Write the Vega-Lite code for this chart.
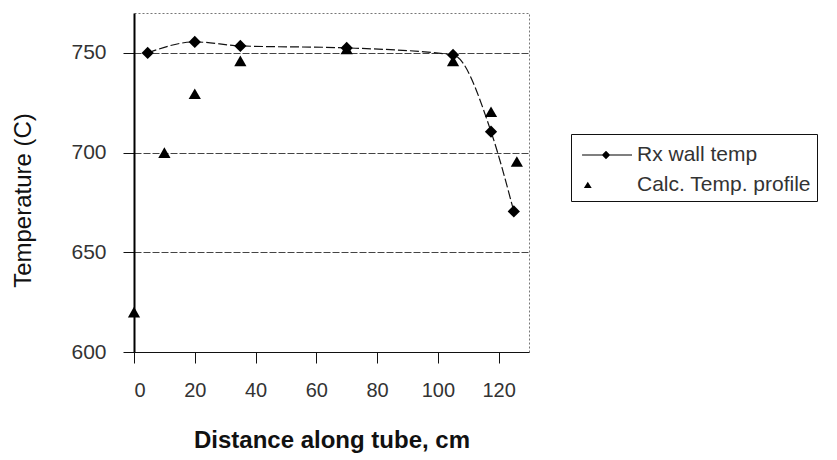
{
  "$schema": "https://vega.github.io/schema/vega-lite/v6.json",
  "width": 395,
  "height": 339,
  "autosize": {"type": "none"},
  "padding": {"left": 134, "top": 13, "right": 308, "bottom": 108},
  "background": "white",
  "config": {
    "font": "Liberation Sans",
    "view": {"stroke": "#777777", "strokeDash": [2, 2], "strokeWidth": 1}
  },
  "data": {
    "values": [
      {"x": 4.5, "temp": 750, "series": "Rx wall temp"},
      {"x": 20, "temp": 755.5, "series": "Rx wall temp"},
      {"x": 35, "temp": 753.5, "series": "Rx wall temp"},
      {"x": 70, "temp": 752.5, "series": "Rx wall temp"},
      {"x": 105, "temp": 749, "series": "Rx wall temp"},
      {"x": 117.5, "temp": 710.5, "series": "Rx wall temp"},
      {"x": 125, "temp": 670.5, "series": "Rx wall temp"},
      {"x": 0, "temp": 620, "series": "Calc. Temp. profile"},
      {"x": 10, "temp": 700, "series": "Calc. Temp. profile"},
      {"x": 20, "temp": 729.5, "series": "Calc. Temp. profile"},
      {"x": 35, "temp": 746, "series": "Calc. Temp. profile"},
      {"x": 70, "temp": 752, "series": "Calc. Temp. profile"},
      {"x": 105, "temp": 746, "series": "Calc. Temp. profile"},
      {"x": 117.5, "temp": 720.5, "series": "Calc. Temp. profile"},
      {"x": 126, "temp": 695.5, "series": "Calc. Temp. profile"}
    ]
  },
  "encoding": {
    "x": {
      "field": "x",
      "type": "quantitative",
      "scale": {"domain": [0, 130], "nice": false, "zero": false},
      "axis": {
        "title": "Distance along tube, cm",
        "values": [0, 20, 40, 60, 80, 100, 120],
        "grid": false,
        "tickSize": 11,
        "tickColor": "#111111",
        "domainColor": "#111111",
        "domainWidth": 1.2,
        "labelFontSize": 20,
        "labelColor": "#333333",
        "labelPadding": 17,
        "titleFontSize": 24,
        "titleFontWeight": "bold",
        "titleColor": "#111111",
        "titleBaseline": "alphabetic",
        "titleY": 95
      }
    },
    "y": {
      "field": "temp",
      "type": "quantitative",
      "scale": {"domain": [600, 770], "nice": false, "zero": false},
      "axis": {
        "title": "Temperature (C)",
        "values": [600, 650, 700, 750],
        "grid": true,
        "gridColor": "#444444",
        "gridDash": [7, 2],
        "gridWidth": 1,
        "tickSize": 11,
        "tickColor": "#111111",
        "domainColor": "#000000",
        "domainWidth": 2,
        "labelFontSize": 21,
        "labelColor": "#333333",
        "labelPadding": 17,
        "titleFontSize": 24,
        "titleFontWeight": "normal",
        "titleColor": "#111111",
        "titleAngle": 270,
        "titleAlign": "center",
        "titleBaseline": "middle",
        "titleX": -111,
        "titleY": 187
      }
    }
  },
  "layer": [
    {
      "transform": [{"filter": "datum.series === 'Rx wall temp'"}],
      "mark": {"type": "line", "interpolate": "monotone", "color": "#111111", "strokeWidth": 1.2, "strokeDash": [9, 3]}
    },
    {
      "mark": {"type": "point", "filled": true, "size": 150, "color": "#000000", "opacity": 1},
      "encoding": {
        "shape": {
          "field": "series",
          "type": "nominal",
          "scale": {"domain": ["Rx wall temp", "Calc. Temp. profile"], "range": ["diamond", "triangle-up"]},
          "legend": null
        }
      }
    },
    {
      "mark": {"type": "point", "filled": true, "size": 10, "color": "#000000", "opacity": 0},
      "encoding": {
        "shape": {
          "field": "series",
          "type": "nominal",
          "scale": {
            "domain": ["Rx wall temp", "Calc. Temp. profile"],
            "range": ["M-0.71,-0.04H2.86V0.04H-0.71ZM0.7,0L1,-0.3L1.3,0L1,0.3Z", "M-0.3,-0.24L-0.02,0.22L-0.58,0.22Z"]
          },
          "legend": {
            "title": null,
            "orient": "none",
            "legendX": 437,
            "legendY": 121,
            "padding": 6,
            "strokeColor": "#111111",
            "fillColor": "white",
            "symbolSize": 784,
            "symbolOpacity": 1,
            "symbolFillColor": "#000000",
            "rowPadding": 5,
            "labelOffset": 30,
            "labelFontSize": 21,
            "labelColor": "#333333",
            "labelLimit": 300
          }
        }
      }
    }
  ],
  "resolve": {"scale": {"shape": "independent"}}
}
